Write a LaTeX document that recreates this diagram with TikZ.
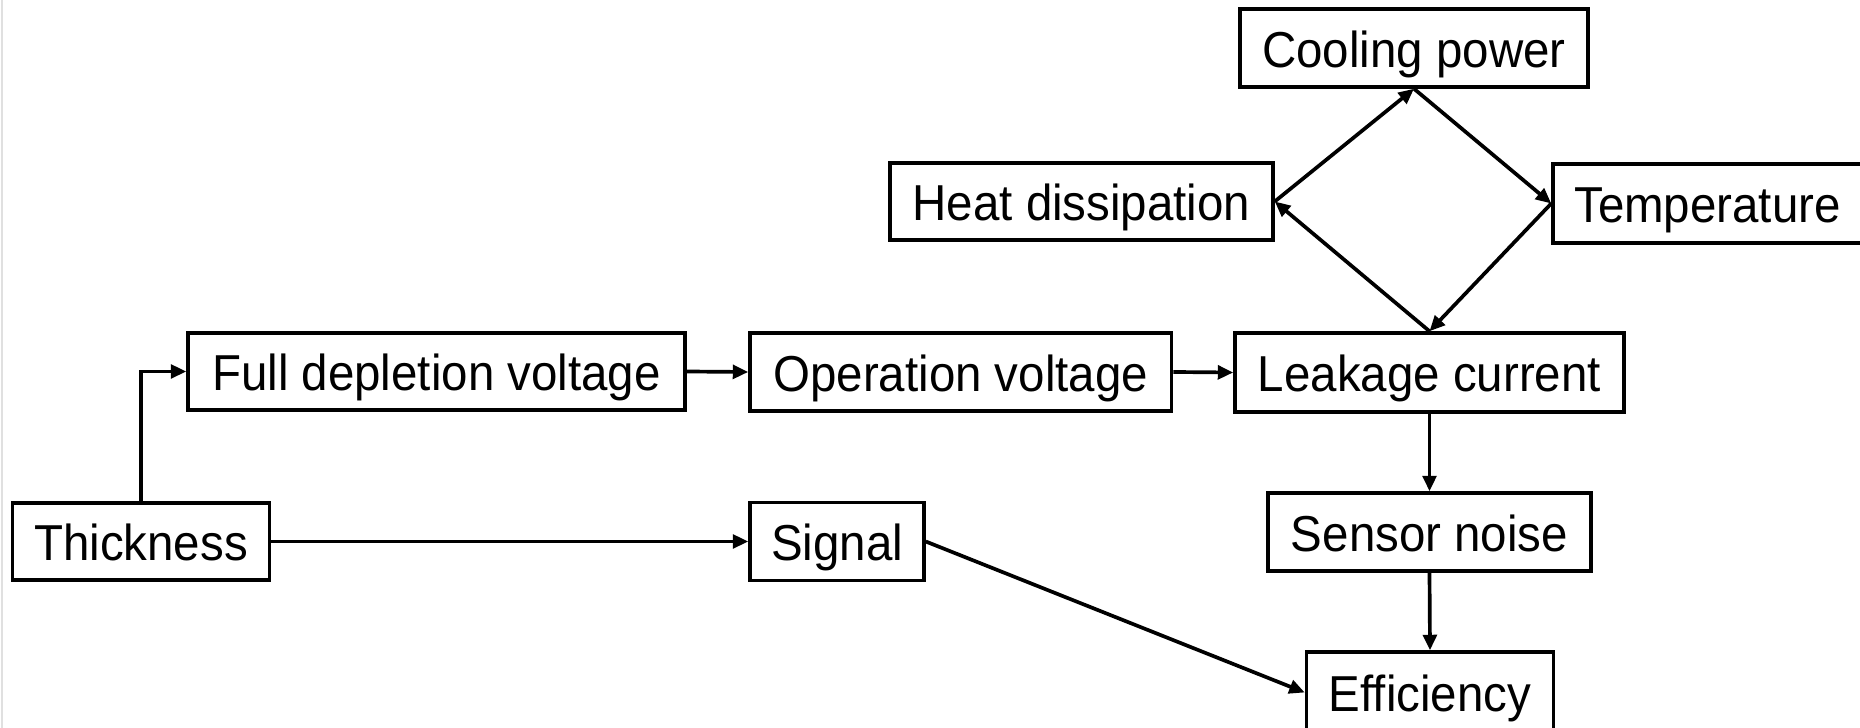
\documentclass[tikz,border=0pt]{standalone}
\usepackage{fontspec}
\setmainfont[FakeStretch=0.94]{Liberation Sans}
\usetikzlibrary{arrows.meta}
\begin{document}
\begin{tikzpicture}[x=0.1mm,y=-0.1mm,
  box/.style={draw, line width=1pt, inner sep=0pt, rectangle,
    font=\fontsize{14.37pt}{17pt}\selectfont, text height=11.1pt, text depth=0pt},
  conn/.style={line width=1.05pt, -{Triangle[length=4.4pt,width=3.9pt]}}]
\useasboundingbox (0,0) rectangle (1860,728);
\draw[black!12, line width=0.6pt] (2,0) -- (2,728);
\node[box, minimum width=25.7mm, minimum height=7.7mm] (thick) at (141,541.5) {Thickness};
\node[box, minimum width=49.7mm, minimum height=7.7mm] (fdv) at (436.5,371.5) {Full depletion voltage};
\node[box, minimum width=42.15mm, minimum height=7.8mm] (ov) at (960.75,372) {Operation voltage};
\node[box, minimum width=38.9mm, minimum height=7.9mm] (lc) at (1429.5,372.5) {Leakage current};
\node[box, minimum width=17.4mm, minimum height=7.8mm] (sig) at (837,541.5) {Signal};
\node[box, minimum width=34.8mm, minimum height=7.8mm] (cp) at (1414,48) {Cooling power};
\node[box, minimum width=38.3mm, minimum height=7.7mm] (hd) at (1081.5,201.5) {Heat dissipation};
\node[box, minimum width=30.9mm, minimum height=7.9mm] (temp) at (1707.5,203.5) {Temperature};
\node[box, minimum width=32.3mm, minimum height=7.8mm] (sn) at (1429.5,532) {Sensor noise};
\node[box, minimum width=24.7mm, minimum height=8.1mm] (eff) at (1430,692.5) {Efficiency};
\draw[conn] (thick.north) |- (fdv.west);
\draw[conn] (fdv.east) -- (ov.west);
\draw[conn] (ov.east) -- (lc.west);
\draw[conn] (thick.east) -- (sig.west);
\draw[conn] (sig.east) -- (eff.west);
\draw[conn] (lc.south) -- (sn.north);
\draw[conn] (sn.south) -- (eff.north);
\draw[conn] (lc.north) -- (hd.east);
\draw[conn] (hd.east) -- (cp.south);
\draw[conn] (cp.south) -- (temp.west);
\draw[conn] (temp.west) -- (lc.north);
\end{tikzpicture}
\end{document}
